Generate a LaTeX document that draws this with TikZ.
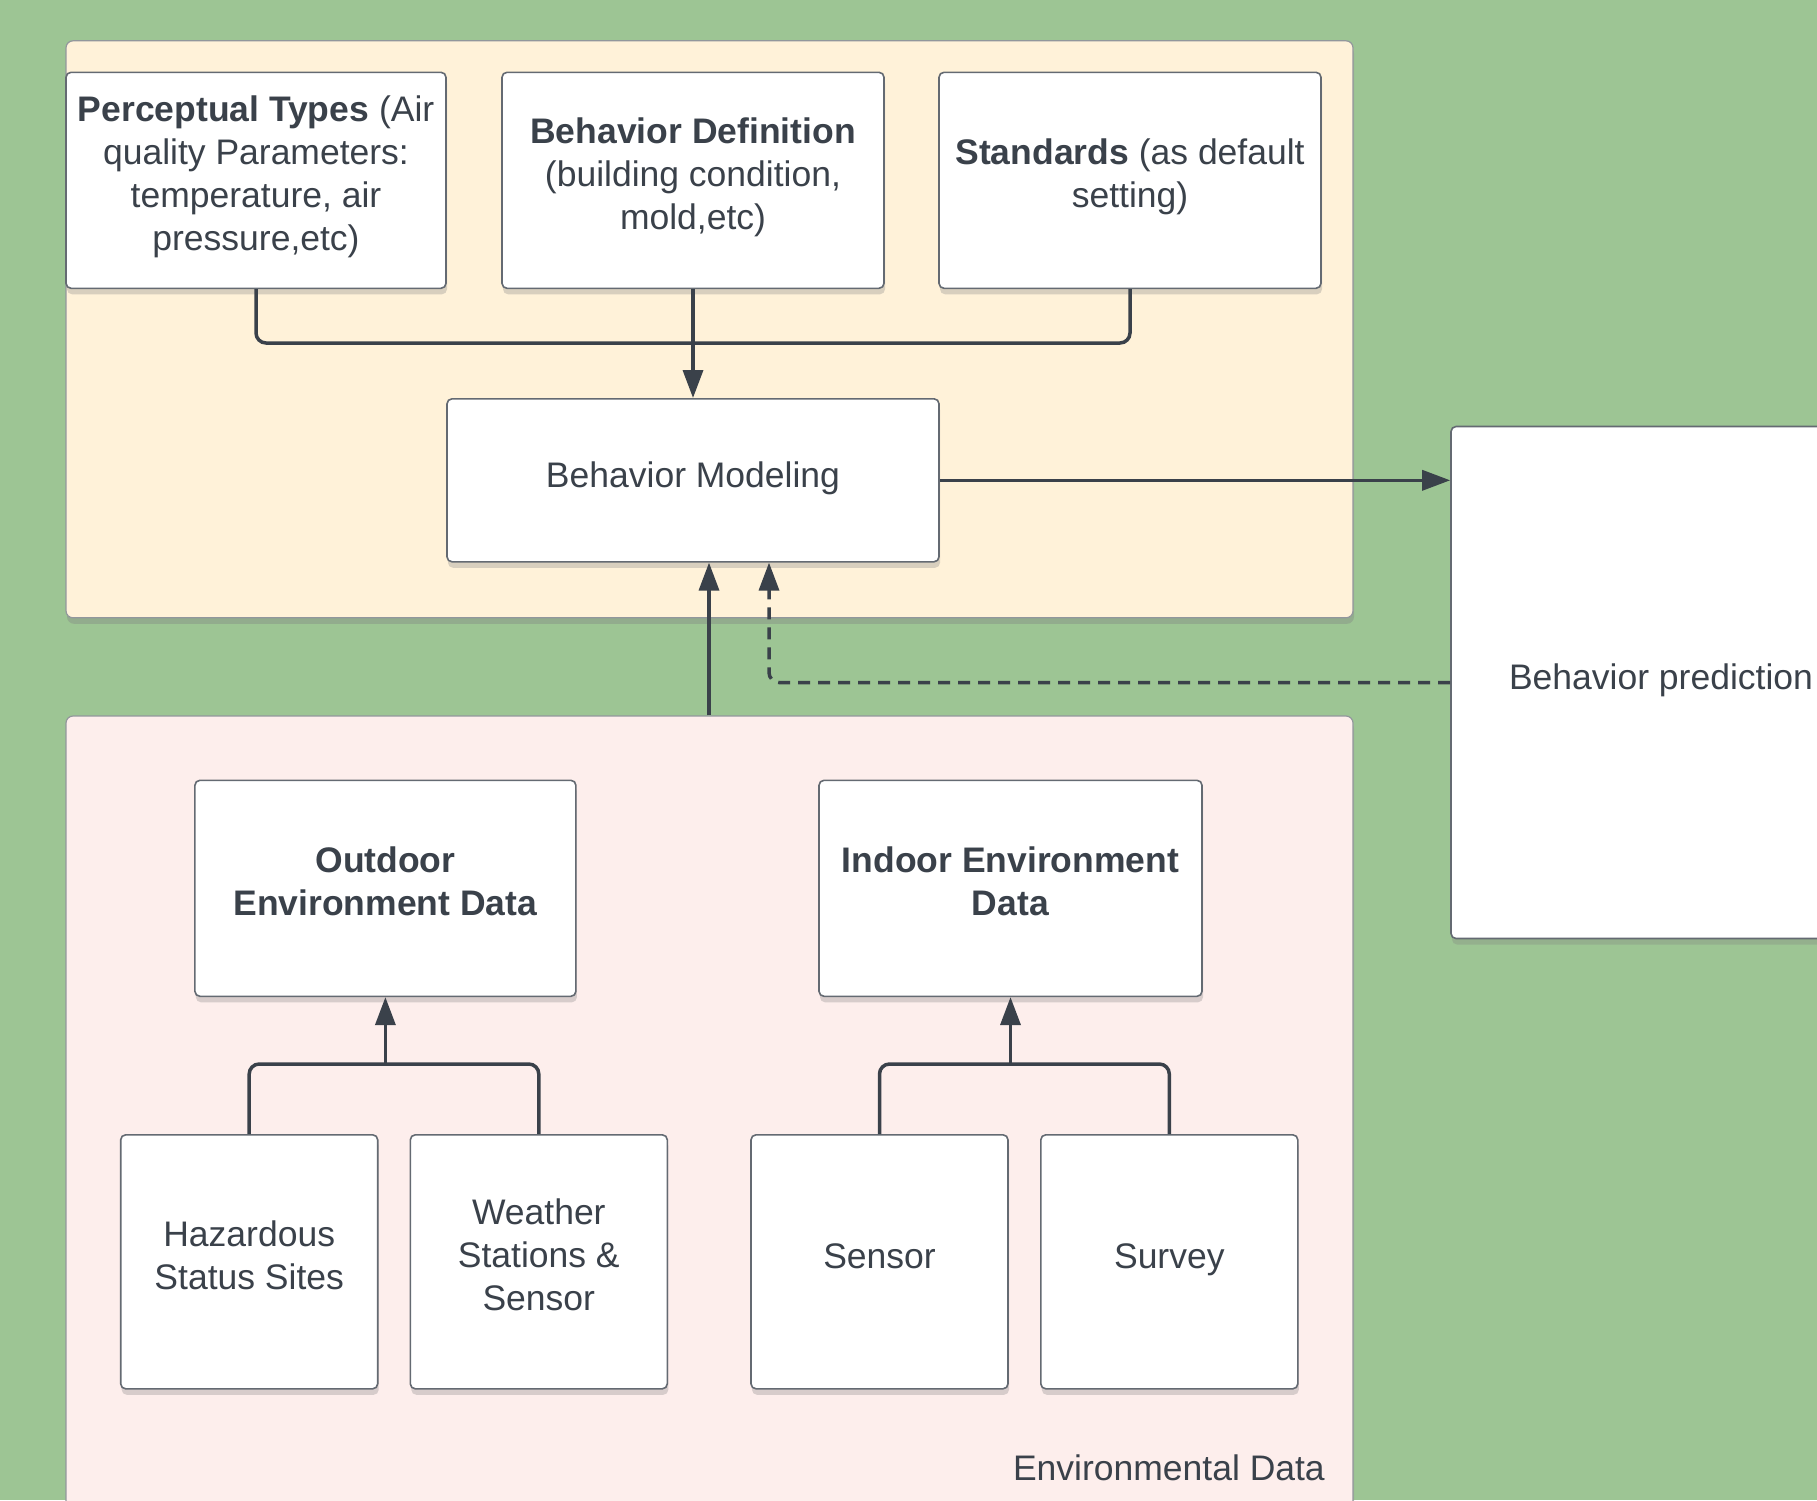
\documentclass[tikz,border=0pt]{standalone}
\usepackage{fontspec}
\setmainfont{Liberation Sans}
\usepackage{tikz}
\usetikzlibrary{arrows.meta}
\usetikzlibrary{shadows}
\usepackage{xcolor}
\definecolor{bggreen}{HTML}{9DC594}
\definecolor{modelpanel}{HTML}{FFF2D9}
\definecolor{datapanel}{HTML}{FDEEEC}
\definecolor{ink}{HTML}{3A414A}
\definecolor{boxline}{HTML}{646A72}
\newcommand\boxstrut{\rule[-14pt]{0pt}{42pt}}

\begin{document}
\begin{tikzpicture}[x=1pt,y=-1pt,
  box/.style={draw=boxline, line width=1.6pt, fill=white, rounded corners=5pt,
    align=center, text=ink, inner sep=0pt, font=\fontsize{35.5}{43}\selectfont,
    execute at begin node=\boxstrut, execute at end node=\boxstrut,
    drop shadow={shadow xshift=1pt, shadow yshift=-6pt, opacity=.3}},
  panel/.style={draw=boxline!70, line width=1.2pt, rounded corners=7pt, inner sep=0pt,
    drop shadow={shadow xshift=1pt, shadow yshift=-6pt, opacity=.35}},
  link/.style={draw=ink, line width=3.5pt, rounded corners=10pt},
  tip/.style={-{Triangle[length=28pt,width=20pt]}}]
\useasboundingbox (0,0) rectangle (1817,1500);
\clip (0,0) rectangle (1817,1500);
\fill [bggreen] (0,0) rectangle (1817,1500);

% the two group panels
\node [panel, fill=modelpanel, minimum width=1287pt, minimum height=577pt] (modelpanel) at (709.5,329.3) {};
\node [panel, fill=datapanel, minimum width=1287pt, minimum height=844pt] (datapanel) at (709.5,1138) {};

% modelling part
\node [box, minimum width=380pt, minimum height=216pt] (percep) at (256,180.3)
  {\textbf{Perceptual Types} (Air\\quality Parameters:\\temperature, air\\pressure,etc)};
\node [box, minimum width=382pt, minimum height=216pt] (behdef) at (693,180.3)
  {\textbf{Behavior Definition}\\(building condition,\\mold,etc)};
\node [box, minimum width=382pt, minimum height=216pt] (standards) at (1130,180.3)
  {\textbf{Standards} (as default\\setting)};
\node [box, minimum width=492pt, minimum height=163pt] (modeling) at (693,480.3) {Behavior Modeling};

\node [box, minimum width=420pt, minimum height=512pt] (prediction) at (1661,682.5) {Behavior prediction};

% data part
\node [box, minimum width=381pt, minimum height=216pt] (outdoor) at (385.4,888.3)
  {\textbf{Outdoor}\\\textbf{Environment Data}};
\node [box, minimum width=383pt, minimum height=216pt] (indoor) at (1010.5,888.3)
  {\textbf{Indoor Environment}\\\textbf{Data}};
\node [box, minimum width=257pt, minimum height=254pt] (hazard) at (249.2,1261.8) {Hazardous\\Status Sites};
\node [box, minimum width=257pt, minimum height=254pt] (weather) at (538.8,1261.8) {Weather\\Stations \&\\Sensor};
\node [box, minimum width=257pt, minimum height=254pt] (sensor) at (879.5,1261.8) {Sensor};
\node [box, minimum width=257pt, minimum height=254pt] (survey) at (1169.3,1261.8) {Survey};

\node [anchor=east, text=ink, inner sep=0pt, font=\fontsize{35.5}{43}\selectfont] (envlabel) at (1325,1468) {Environmental Data};

% connectors
\coordinate (topjoin) at (693,343);
\coordinate (outjoin) at (385.4,1064);
\coordinate (injoin) at (1010.5,1064);

\draw [link] (percep.south) |- (topjoin) -| (standards.south);
\draw [link, tip] (behdef.south) -- (modeling.north);
\draw [link, tip] (modeling.east) -- (modeling.east -| prediction.west);
\draw [link, tip] ([xshift=16pt]modeling.south |- datapanel.north) -- ([xshift=16pt]modeling.south);
\draw [link, tip, dash pattern=on 12pt off 8pt] (prediction.west) -| ([xshift=76pt]modeling.south);

\draw [link] (hazard.north) |- (outjoin) -| (weather.north);
\draw [link, tip] (outjoin) -- (outdoor.south);
\draw [link] (sensor.north) |- (injoin) -| (survey.north);
\draw [link, tip] (injoin) -- (indoor.south);

\end{tikzpicture}
\end{document}
